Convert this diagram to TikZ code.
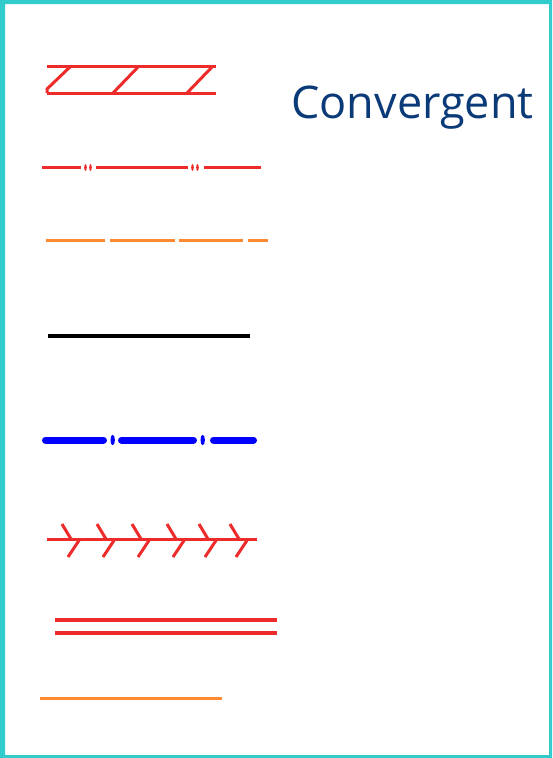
\documentclass[tikz,border=0pt]{standalone}
\usepackage{fontspec}
\newfontfamily\labelfont{Open Sans}
\definecolor{frame}{HTML}{33CCCC}
\definecolor{rred}{HTML}{EE2B2B}
\definecolor{rorange}{HTML}{FF8833}
\definecolor{rblue}{HTML}{0000FF}
\definecolor{tblue}{HTML}{0B3A78}
\begin{document}
\begin{tikzpicture}[x=1pt,y=-1pt,
  redline/.style={draw=rred,line width=3pt},
  orangeline/.style={draw=rorange,line width=3pt},
  blueline/.style={draw=rblue,line width=7pt,line cap=round},
]
\useasboundingbox (0,0) rectangle (552,758);
\fill[white] (0,0) rectangle (552,758);
\fill[frame,even odd rule] (0,0) rectangle (552,758) (5,4) rectangle (549,755);

% 1 hatched
\draw[redline] (47,66) -- (216,66);
\draw[redline] (47,93) -- (216,93);
\draw[redline] (71,66) -- (47,89) -- (47,93);
\draw[redline] (113,93) -- (139,66);
\draw[redline] (187,93) -- (213,66);

% 2 red with double ticks
\draw[redline] (42,167) -- (81,167);
\draw[redline] (96,167) -- (188,167);
\draw[redline] (204,167) -- (261,167);
\foreach \x in {85.5,90.5,192.5,197.5}{\fill[rred] (\x,167.5) ellipse (1.3 and 3.3);}

% 3 orange dashed
\foreach \a/\b in {46/105,110/175,179/243,248/268}{\draw[orangeline] (\a,240) -- (\b,240);}

% 4 black
\draw[line width=4pt] (48,336) -- (250,336);

% 5 blue
\draw[blueline] (45.5,440) -- (103.5,440);
\draw[blueline] (121.5,440) -- (193.5,440);
\draw[blueline] (213.5,440) -- (253.5,440);
\fill[rblue] (112.7,440) ellipse (2.2 and 5.2);
\fill[rblue] (202.7,440) ellipse (2.2 and 5.2);

% 6 chevrons
\draw[redline] (47,539) -- (257,539);
\foreach \t in {62,97,132,167,199,230}{
  \draw[redline] (\t,524) -- (\t+9,539);
  \draw[redline] (\t+18,539) -- (\t+6,557);
}

% 7 double red
\draw[draw=rred,line width=3.6pt] (55,620) -- (277,620);
\draw[draw=rred,line width=3.6pt] (55,633) -- (277,633);

% 8 orange
\draw[orangeline] (40,698) -- (222,698);

\node[anchor=base,text=tblue,font=\labelfont\fontsize{45}{45}\selectfont,inner sep=0] (title) at (412.5,118) {Convergent};
\end{tikzpicture}
\end{document}
